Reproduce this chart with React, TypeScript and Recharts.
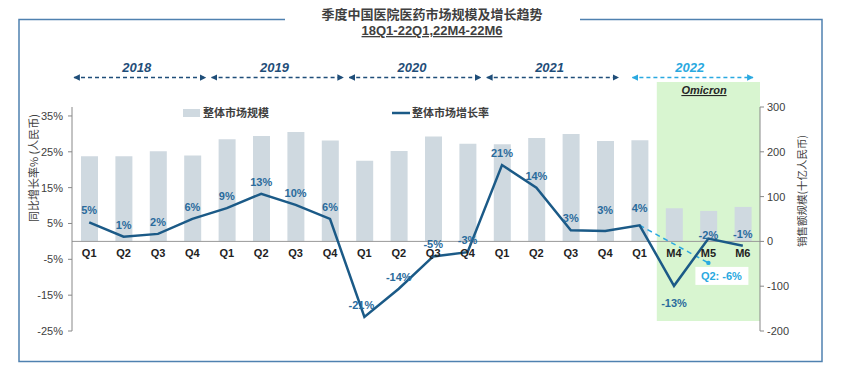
import { ComposedChart, Bar, Line, XAxis, YAxis, ReferenceArea, ReferenceLine, LabelList } from "recharts"

const years = ["2018", "2019", "2020", "2021", "2022"]
const periods = [
  "2018 Q1", "2018 Q2", "2018 Q3", "2018 Q4",
  "2019 Q1", "2019 Q2", "2019 Q3", "2019 Q4",
  "2020 Q1", "2020 Q2", "2020 Q3", "2020 Q4",
  "2021 Q1", "2021 Q2", "2021 Q3", "2021 Q4",
  "2022 Q1", "2022 M4", "2022 M5", "2022 M6",
]
// 整体市场规模 (十亿人民币)
const marketSize = [190, 190, 201, 192, 228, 235, 244, 225, 180, 202, 234, 218, 217, 231, 240, 224, 226, 74, 68, 77]
// 整体市场增长率 (%)
const growthRate = [5.3, 1.3, 2.1, 6.3, 9.3, 13.3, 10.2, 6.3, -21.1, -13.2, -4.2, -3.0, 21.3, 15.0, 3.1, 2.9, 4.5, -12.4, 0.8, -1.2]
const growthLabels = ["5%", "1%", "2%", "6%", "9%", "13%", "10%", "6%", "-21%", "-14%", "-5%", "-3%", "21%", "14%", "3%", "3%", "4%", "-13%", "-2%", "-1%"]
// Q2 estimate (dashed)
const q2Estimate = [null, null, null, null, null, null, null, null, null, null, null, null, null, null, null, null, 4.5, null, -6, null]
const q2Label = "Q2: -6%"

const leftTicks = [-25, -15, -5, 5, 15, 25, 35]
const rightTicks = [-200, -100, 0, 100, 200, 300]

const data = periods.map((id, i) => ({
  id,
  size: marketSize[i],
  growth: growthRate[i],
  label: growthLabels[i],
  q2: q2Estimate[i],
  q2Label: q2Estimate[i] != null && i === periods.length - 2 ? q2Label : null,
}))

const W = 845
const H = 374
const plotLeft = 72
const plotRight = 760
const plotTop = 107
const plotBottom = 331
const leftDomain: [number, number] = [-25, 37.5]
const rightDomain: [number, number] = [-200, 300]
const zeroY = plotTop + (leftDomain[1] / (leftDomain[1] - leftDomain[0])) * (plotBottom - plotTop)
const band = (plotRight - plotLeft) / periods.length

const FONT = "'Liberation Sans', Arial, 'Noto Sans CJK SC', sans-serif"
const CJK = "'Noto Sans CJK SC', 'Liberation Sans', sans-serif"
const LINE = "#1b5a87"
const BAR = "#cfd9e0"
const LIGHT = "#2aa9e0"
const LABEL = "#2a6b9c"
const TEXT = "#404040"

const CategoryTick = (props: any) => {
  const { x, payload } = props
  const text = String(payload.value).split(" ")[1]
  return (
    <text x={x} y={zeroY + 16} textAnchor="middle" fontSize={11} fontWeight="bold" fill="#222" fontFamily={FONT}>
      {text}
    </text>
  )
}

const labelShift: Record<string, number> = {
  "2021 Q4": -21,
  "2022 Q1": -17,
  "2022 M4": 17,
  "2022 M5": -4,
}

const GrowthLabel = (props: any) => {
  const { x, y, value, index } = props
  if (value == null) return null
  const id = periods[index]
  const dy = labelShift[id] ?? -12
  const dx = id === "2020 Q1" ? -3 : 0
  return (
    <text x={x + dx} y={y + dy + 4} textAnchor="middle" fontSize={11} fontWeight="bold" fill={LABEL} fontFamily={FONT}>
      {value}
    </text>
  )
}

const Q2Label = (props: any) => {
  const { x, y, value } = props
  if (value == null) return null
  return (
    <g>
      <rect x={x - 13} y={y + 4} width={53} height={18} fill="#fff" />
      <text x={x + 13} y={y + 17} textAnchor="middle" fontSize={11} fontWeight="bold" fill={LIGHT} fontFamily={FONT}>
        {value}
      </text>
    </g>
  )
}

const Q2Dot = (props: any) => {
  const { cx, cy, index } = props
  if (index !== periods.length - 2 || cy == null) return <g key={index} />
  return <circle key={index} cx={cx} cy={cy} r={2.2} fill={LIGHT} />
}

export default function App() {
  const arrowY = 77.5
  return (
    <div style={{ position: "absolute", left: 0, top: 0, width: W, height: H, background: "#fff" }}>
      <ComposedChart width={W} height={H} data={data} margin={{ top: plotTop, right: 45, bottom: 13, left: 20 }}>
        <ReferenceArea
          yAxisId="left"
          x1="2022 M4"
          x2="2022 M6"
          y1={-22.2}
          y2={44.5}
          ifOverflow="visible"
          fill="#d8f5d0"
          fillOpacity={1}
          stroke="none"
        />
        <XAxis dataKey="id" height={30} axisLine={false} tickLine={false} interval={0} tick={<CategoryTick />} />
        <YAxis
          yAxisId="left"
          width={52}
          domain={leftDomain}
          ticks={leftTicks}
          tickFormatter={(v: number) => `${v}%`}
          tick={{ fontSize: 11, fill: TEXT, fontFamily: FONT }}
          tickSize={4}
          tickMargin={5}
          stroke="#888"
        />
        <YAxis
          yAxisId="right"
          orientation="right"
          width={40}
          domain={rightDomain}
          ticks={rightTicks}
          tick={{ fontSize: 11, fill: TEXT, fontFamily: FONT }}
          tickSize={4}
          tickMargin={3}
          stroke="#888"
        />
        <ReferenceLine yAxisId="left" y={0} stroke="#999" strokeWidth={1} />
        <Bar yAxisId="right" dataKey="size" fill={BAR} barSize={17} isAnimationActive={false} />
        <Line
          yAxisId="left"
          dataKey="q2"
          stroke={LIGHT}
          strokeWidth={1.5}
          strokeDasharray="5 4"
          connectNulls
          dot={<Q2Dot />}
          isAnimationActive={false}
        >
          <LabelList dataKey="q2Label" content={<Q2Label />} />
        </Line>
        <Line
          yAxisId="left"
          dataKey="growth"
          stroke={LINE}
          strokeWidth={2.5}
          dot={false}
          isAnimationActive={false}
        >
          <LabelList dataKey="label" content={<GrowthLabel />} />
        </Line>
      </ComposedChart>

      <svg width={W} height={H} style={{ position: "absolute", left: 0, top: 0, pointerEvents: "none" }}>
        <defs>
          <marker id="ahDark" viewBox="0 0 10 10" refX="9" refY="5" markerWidth="5" markerHeight="5" orient="auto-start-reverse">
            <path d="M0,0 L10,5 L0,10 z" fill="#1f4e79" />
          </marker>
          <marker id="ahLight" viewBox="0 0 10 10" refX="9" refY="5" markerWidth="5" markerHeight="5" orient="auto-start-reverse">
            <path d="M0,0 L10,5 L0,10 z" fill={LIGHT} />
          </marker>
        </defs>

        {/* frame */}
        <rect x={19} y={19.5} width={803} height={342} fill="none" stroke="#4f81b0" strokeWidth={1.5} />
        <rect x={285} y={0} width={295} height={40} fill="#fff" />

        {/* title */}
        <text x={432} y={19} textAnchor="middle" fontSize={13} fontWeight="bold" fill={TEXT} fontFamily={CJK}>
          季度中国医院医药市场规模及增长趋势
        </text>
        <text x={432} y={35} textAnchor="middle" fontSize={13} fontWeight="bold" fill={TEXT} fontFamily={FONT} textDecoration="underline">
          18Q1-22Q1,22M4-22M6
        </text>

        {/* year headers */}
        {years.map((yr, i) => {
          const start = plotLeft + band * 4 * i
          const end = start + band * 4
          const last = i === years.length - 1
          const x1 = start + (last ? 10 : 2)
          const x2 = end - (last ? 7 : 4)
          const col = last ? LIGHT : "#1f4e79"
          return (
            <g key={yr}>
              <line
                x1={x1}
                x2={x2}
                y1={arrowY}
                y2={arrowY}
                stroke={col}
                strokeWidth={1.3}
                strokeDasharray="4 3"
                markerStart={last ? "url(#ahLight)" : "url(#ahDark)"}
                markerEnd={last ? "url(#ahLight)" : "url(#ahDark)"}
              />
              <text x={(x1 + x2) / 2 - 3} y={72} textAnchor="middle" fontSize={13} fontWeight="bold" fontStyle="italic" fill={col} fontFamily={FONT}>
                {yr}
              </text>
            </g>
          )
        })}

        <text x={704} y={94} textAnchor="middle" fontSize={11} fontWeight="bold" fontStyle="italic" fill="#262626" fontFamily={FONT} textDecoration="underline">
          Omicron
        </text>

        {/* legend */}
        <rect x={183} y={109} width={17} height={8} fill={BAR} />
        <text x={203} y={117} fontSize={11} fontWeight="bold" fill={TEXT} fontFamily={CJK}>整体市场规模</text>
        <line x1={392} x2={410} y1={113} y2={113} stroke={LINE} strokeWidth={2.5} />
        <text x={412} y={117} fontSize={11} fontWeight="bold" fill={TEXT} fontFamily={CJK}>整体市场增长率</text>

        {/* axis titles */}
        <text transform="translate(38,168) rotate(-90)" textAnchor="middle" fontSize={11} fill={TEXT} fontFamily={CJK}>
          同比增长率% (人民币)
        </text>
        <text transform="translate(806,191) rotate(-90)" textAnchor="middle" fontSize={10.5} fill={TEXT} fontFamily={CJK}>
          销售额规模(十亿人民币)
        </text>
      </svg>
    </div>
  )
}
